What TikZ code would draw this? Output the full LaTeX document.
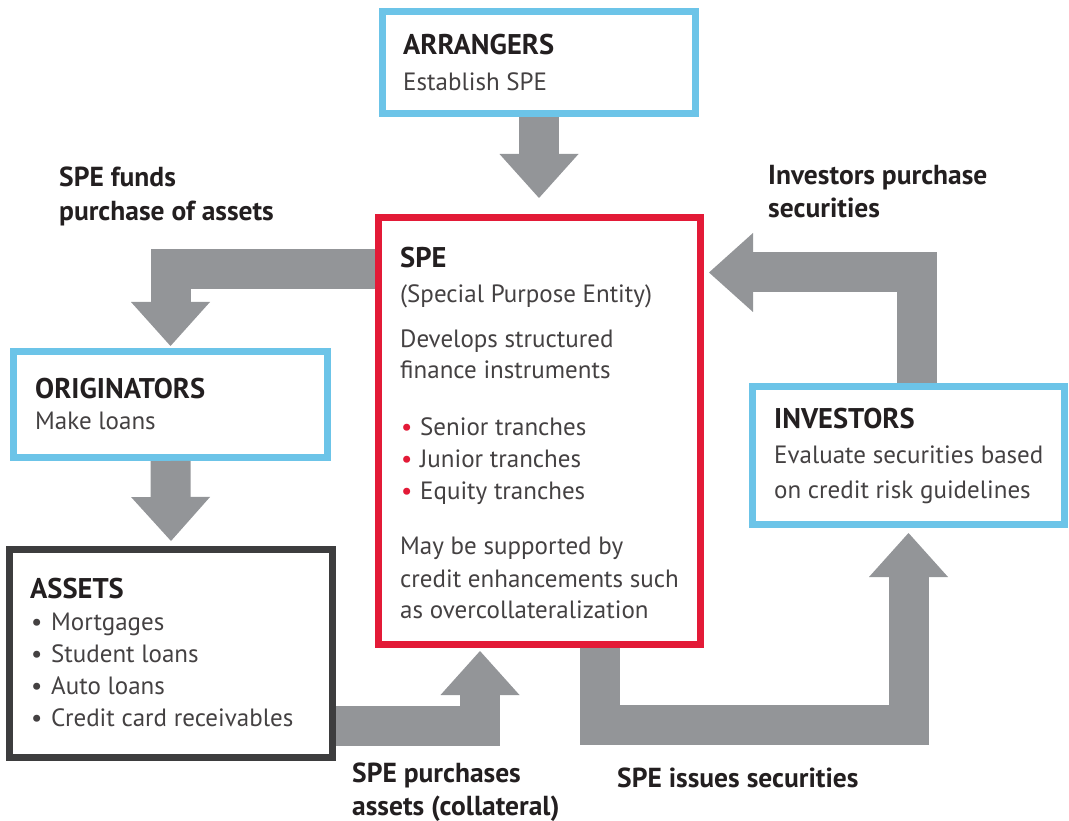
\documentclass[tikz,border=0pt]{standalone}
\usepackage{fontspec}
\setmainfont{PT Sans}
\usetikzlibrary{arrows.meta}
\definecolor{skyb}{HTML}{6CC4E8}
\definecolor{spered}{HTML}{E31A37}
\definecolor{boxdark}{HTML}{3D3D3E}
\definecolor{flowgrey}{HTML}{939598}
\definecolor{ink}{HTML}{231F20}

\begin{document}
\begin{tikzpicture}[x=1pt,y=-1pt,
  box/.style={draw=#1,line width=7pt,fill=white,anchor=north west,inner sep=0pt},
  hd/.style={font=\bfseries\fontsize{28.5}{32}\selectfont,text=ink,anchor=base west,inner sep=0pt},
  txt/.style={font=\fontsize{25}{30}\selectfont,text=ink!85,anchor=base west,inner sep=0pt},
  lbl/.style={font=\bfseries\fontsize{27.5}{30}\selectfont,text=ink,anchor=base west,inner sep=0pt},
  flow/.style={draw=flowgrey,line width=40pt,line join=miter,
    -{Triangle[length=44pt,width=79pt,line width=0pt]}}]
 \useasboundingbox (0,0) rectangle (1069,821);
 % boxes
 \node[box=skyb,minimum width=313pt,minimum height=102pt] (arr) at (379,8) {};
 \node[box=spered,minimum width=322pt,minimum height=427pt] (spe) at (375,214) {};
 \node[box=skyb,minimum width=314pt,minimum height=106pt] (orig) at (10,348) {};
 \node[box=boxdark,minimum width=323pt,minimum height=208pt] (assets) at (6,546) {};
 \node[box=skyb,minimum width=312pt,minimum height=138pt] (inv) at (749,383) {};
 % arrows
 \draw[flow] (arr.south) -- ([yshift=16pt]arr.south |- spe.north);
 \draw[flow] ([yshift=-55pt]spe.north west) -| ([yshift=2pt]orig.north);
 \draw[flow] (orig.south) -- ([yshift=5pt]assets.north);
 \draw[flow] ([yshift=-72pt]assets.east) -| ([xshift=105pt,yshift=-3pt]spe.south west);
 \draw[flow] ([xshift=225pt]spe.south west) -- ++(0,77) -| ([yshift=-5pt]inv.south);
 \draw[flow] ([xshift=8pt]inv.north) |- ([xshift=5pt,yshift=-58.5pt]spe.north east);
 % texts
 \node[hd] (arrT) at (403,55) {ARRANGERS};
 \node[txt] (arrB) at (403,91) {Establish SPE};
 \node[hd] (speT) at (400,268) {SPE};
 \node[txt] (speB1) at (400,302) {(Special Purpose Entity)};
 \node[txt] (speB2) at (400,347) {Develops structured};
 \node[txt] (speB3) at (400,378) {finance instruments};
 \foreach \t [count=\i] in {Senior tranches,Junior tranches,Equity tranches}{
  \node[txt,text=spered] (speD\i) at (401,{403+32*\i}) {\textbullet};
  \node[txt] (speL\i) at (420,{403+32*\i}) {\t};
 }
 \node[txt] (speC1) at (400,554) {May be supported by};
 \node[txt] (speC2) at (400,587) {credit enhancements such};
 \node[txt] (speC3) at (400,618) {as overcollateralization};
 \node[hd] (origT) at (35,398) {ORIGINATORS};
 \node[txt] (origB) at (35,429) {Make loans};
 \node[hd] (assetsT) at (30,598) {ASSETS};
 \foreach \t [count=\i] in {Mortgages,Student loans,Auto loans,Credit card receivables}{
  \node[txt] (assetsD\i) at (31,{598+32*\i}) {\textbullet};
  \node[txt] (assetsL\i) at (51,{598+32*\i}) {\t};
 }
 \node[hd] (invT) at (774,428) {INVESTORS};
 \node[txt] (invB1) at (774,463) {Evaluate securities based};
 \node[txt] (invB2) at (774,498) {on credit risk guidelines};
 % arrow labels
 \node[lbl] (fundsA) at (59,187) {SPE funds};
 \node[lbl] (fundsB) at (59,221) {purchase of assets};
 \node[lbl] (buyA) at (768,185) {Investors purchase};
 \node[lbl] (buyB) at (768,218) {securities};
 \node[lbl] (collA) at (352,782) {SPE purchases};
 \node[lbl] (collB) at (352,815) {assets (collateral)};
 \node[lbl] (issue) at (617,787) {SPE issues securities};
\end{tikzpicture}
\end{document}
